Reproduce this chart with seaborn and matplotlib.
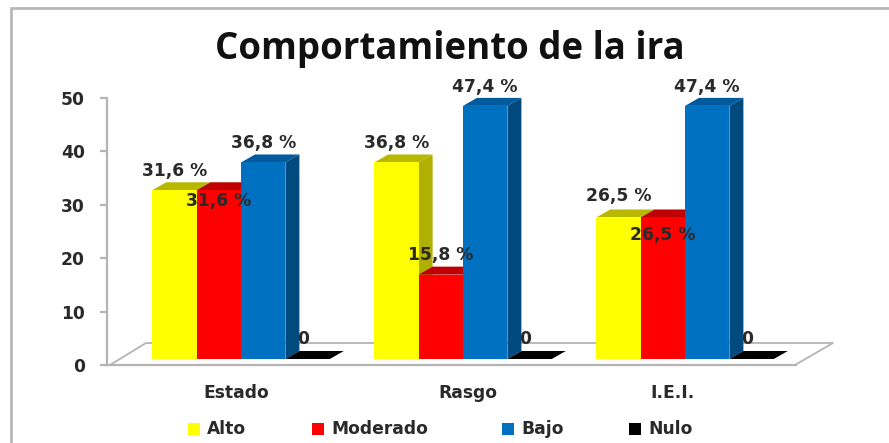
# Comportamiento de la ira - fake 3D clustered bars with seaborn
import matplotlib
matplotlib.use('Agg')
import matplotlib.pyplot as plt
import matplotlib.transforms as mtrans
from matplotlib.patches import Polygon, Rectangle
import pandas as pd
import seaborn as sns

# data
categories = ['Estado', 'Rasgo', 'I.E.I.']
alto = [31.6, 36.8, 26.5]
moderado = [31.6, 15.8, 26.5]
bajo = [36.8, 47.4, 47.4]
nulo = [0, 0, 0]
series_names = ['Alto', 'Moderado', 'Bajo', 'Nulo']
y_ticks = [0, 10, 20, 30, 40, 50]

colors = ['#ffff00', '#ff0000', '#0070c0', '#000000']
side_colors = ['#b0b000', '#b00000', '#004a80', '#000000']
top_colors = ['#b8b800', '#c00000', '#005a9c', '#000000']

W, H = 889, 443
DX, DY = 14, 8      # depth of the fake 3D, px
LIFT = 6            # bars stand this far above the front floor line, px
GREY = '#b4b4b4'
TXT = '#2a2a2a'
FS = 12.3

rows = []
for name, vals in zip(series_names, [alto, moderado, bajo, nulo]):
    for cat, v in zip(categories, vals):
        rows.append({'cat': cat, 'serie': name, 'valor': v})
df = pd.DataFrame(rows)

sns.set_theme(style='white')
plt.rcParams['font.family'] = ['DejaVu Sans']

fig = plt.figure(figsize=(W / 100, H / 100), dpi=100, facecolor='white')
# axes box in pixels: x 107..796, y 98 (value 50) .. 365 (value 0)
ax = fig.add_axes([107 / W, 1 - 365 / H, (796 - 107) / W, (365 - 98) / H])
ax.patch.set_alpha(0)

sns.barplot(data=df, x='cat', y='valor', hue='serie', order=categories,
            hue_order=series_names, palette=colors, width=0.8, saturation=1,
            legend=False, ax=ax)
ax.set_xlim((107 - 241) / 222, (796 - 241) / 222)
ax.set_ylim(0, 50)


def px(x, y):
    # shift in pixels, added after the data transform
    return mtrans.Affine2D().translate(x, y)


# move bars back onto the floor and add top and side faces
lift = ax.transData + px(0, LIFT)
screen = mtrans.IdentityTransform()
for i, name in enumerate(series_names):
    for j, bar in enumerate(ax.containers[i]):
        bar.set_transform(lift)
        bar.set_linewidth(0)
        bar.set_zorder(10 + 2 * i + 0.5)
        x0, w, h = bar.get_x(), bar.get_width(), bar.get_height()
        tl = lift.transform((x0, h))
        tr = lift.transform((x0 + w, h))
        br = lift.transform((x0 + w, 0))
        top = [tl, tl + (DX, DY), tr + (DX, DY), tr]
        side = [tr, tr + (DX, DY), br + (DX, DY), br]
        ax.add_patch(Polygon(top, closed=True, transform=screen, fc=top_colors[i],
                             ec='none', zorder=10 + 2 * i, clip_on=False))
        ax.add_patch(Polygon(side, closed=True, transform=screen, fc=side_colors[i],
                             ec='none', zorder=10 + 2 * i, clip_on=False))

# floor and frame lines
fx = lambda x: x / W
fy = lambda y: 1 - y / H
fig.add_artist(plt.Line2D([fx(110), fx(146), fx(833), fx(795)],
                          [fy(365), fy(343), fy(343), fy(365)], color=GREY, lw=1.3, zorder=0))
fig.add_artist(Rectangle((fx(11), -0.1), 1.0, 0.1 + fy(8), fill=False, ec='#b8b8b8', lw=2,
                         transform=fig.transFigure))

sns.despine(ax=ax, top=True, right=True)
for spine in ['left', 'bottom']:
    ax.spines[spine].set_color(GREY)
    ax.spines[spine].set_linewidth(1.6)
ax.set_yticks(y_ticks)
ax.tick_params(axis='y', left=True, length=5, width=1.6, color=GREY, pad=11)
ax.tick_params(axis='x', bottom=False, pad=8)
ax.set_xlabel('')
ax.set_ylabel('')
for t in ax.get_yticklabels():
    t.set_fontsize(FS)
    t.set_fontweight('bold')
    t.set_color(TXT)
for t, shift in zip(ax.get_xticklabels(), [-5, 5, -12]):
    t.set_fontsize(FS)
    t.set_fontweight('bold')
    t.set_color(TXT)
    t.set_transform(t.get_transform() + px(shift, 0))

# value labels, pixels above (or below) the bar top
offsets = {'Alto': [19, 19, 21], 'Moderado': [-11, 20, -18], 'Bajo': [19, 19, 19], 'Nulo': [20, 20, 20]}
for i, name in enumerate(series_names):
    for j, bar in enumerate(ax.containers[i]):
        v = bar.get_height()
        txt = '0' if v == 0 else f'{v:.1f} %'.replace('.', ',')
        cx = bar.get_x() + bar.get_width() / 2
        xoff = -4 if v == 0 else 0
        ax.text(cx, v, txt, transform=lift + px(xoff, offsets[name][j]), ha='center', va='center',
                fontsize=FS, fontweight='bold', color=TXT, zorder=40, clip_on=False)

# title
fig.text(fx(450), fy(49), 'Comportamiento de la ira', ha='center', va='center', fontsize=26.4,
         fontweight='bold', family='Open Sans', color='#111111')

# legend, placed by hand like the original
legend_x = [188, 312, 502, 629]
for x, name, c in zip(legend_x, series_names, colors):
    fig.add_artist(Rectangle((fx(x), fy(435)), 12 / W, 12 / H, fc=c, ec='none'))
    fig.text(fx(x + 19), fy(429), name, ha='left', va='center', fontsize=FS,
             fontweight='bold', color=TXT)

fig.savefig('out.png', dpi=100)
